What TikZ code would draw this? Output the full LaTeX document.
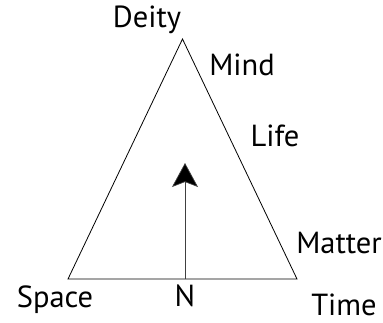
\documentclass[tikz,border=0pt]{standalone}
\usepackage{fontspec}
\setmainfont{PT Sans}
\usetikzlibrary{arrows.meta}
\begin{document}
\begin{tikzpicture}[x=1pt,y=-1pt,
  lbl/.style={inner sep=0pt,anchor=base,font=\fontsize{30.5}{32}\selectfont},
  edge/.style={line width=0.8pt,line join=miter},
  axis/.style={line width=0.7pt,draw=black!75,-{Stealth[length=24pt,width=26pt,inset=5pt,fill=black]}}]
\useasboundingbox (0,0) rectangle (383,322);
\coordinate (apex) at (182.5,39);
\coordinate (bl) at (68,279);
\coordinate (br) at (297,279);
\coordinate (base) at (185,279);
\coordinate (tip) at (185,163);
\draw[edge] (apex) -- (bl) -- (br) -- cycle;
\draw[axis] (base) -- (tip);
\node[lbl] (deity) at (147,27) {Deity};
\node[lbl] (mind) at (242,75) {Mind};
\node[lbl] (life) at (275,146) {Life};
\node[lbl] (matter) at (339,253) {Matter};
\node[lbl] (space) at (55,307) {Space};
\node[lbl] (n) at (185,306) {N};
\node[lbl] (time) at (344,315) {Time};
\end{tikzpicture}
\end{document}
